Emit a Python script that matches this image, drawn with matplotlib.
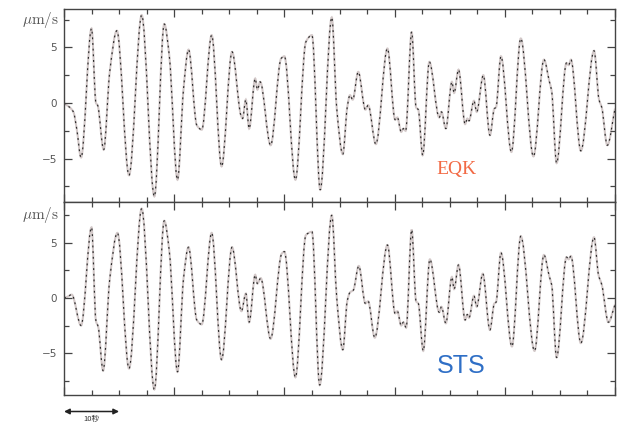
import numpy as np
import matplotlib
matplotlib.use("Agg")
import matplotlib.pyplot as plt
from matplotlib.path import Path
from matplotlib.patches import PathPatch
from matplotlib.ticker import MultipleLocator
import matplotlib.transforms as mtransforms

plt.rcParams["mathtext.fontset"] = "cm"

# ---- data: key points (time [s], velocity [um/s]) ----
t_eqk = [0, 1.7, 2.3, 3.1, 5.0, 5.8, 6.1, 7.2, 8.3, 9.6, 11.8, 14.1, 16.4, 18.2, 19.1,
         20.6, 21.7, 22.6, 24.1, 25.0, 26.8, 28.6, 30.5, 32.1, 32.4, 33.0, 33.6, 34.7,
         35.1, 35.6, 37.5, 39.4, 40.0, 42.0, 43.9, 45.0, 46.5, 48.6, 49.5, 50.6, 51.4,
         51.9, 52.4, 53.4, 54.7, 55.2, 56.6, 58.7, 60.1, 60.5, 61.2, 61.6, 62.0, 63.1,
         63.9, 64.3, 65.1, 66.3, 68.1, 68.5, 69.3, 70.4, 70.8, 71.6, 72.8, 73.2, 73.5,
         74.4, 74.9, 76.1, 77.3, 78.1, 78.4, 79.3, 81.2, 82.9, 85.2, 87.1, 88.1, 88.5,
         89.4, 91.2, 91.6, 92.0, 93.8, 96.2, 97.1, 97.6, 98.6, 100.0]
v_eqk = [0.0, -0.8, -2.3, -4.9, 6.7, 0.0, -0.2, -4.2, 2.8, 6.5, -6.5, 7.9, -8.4, 7.1, 4.3,
         -6.9, 1.3, 4.8, -2.0, -2.4, 6.1, -5.7, 4.6, -1.1, -1.4, 0.3, -2.3, 2.2,
         1.2, 1.9, -3.8, 4.0, 4.2, -6.9, 5.5, 6.1, -7.8, 7.7, -0.5, -4.6, -0.4,
         0.7, 0.3, 2.8, -0.6, -0.2, -3.7, 4.9, -1.5, -1.3, -2.6, -2.3, -2.5, 6.4,
         -0.4, -0.6, -4.7, 3.7, -1.3, -0.8, -2.3, 1.9, 0.9, 3.0, -1.9, -1.4, -1.6,
         0.2, -0.8, 2.5, -2.9, -0.5, -0.4, 4.2, -4.4, 5.8, -4.8, 3.9, 1.9, 1.1,
         -5.4, 3.6, 3.4, 3.9, -4.3, 4.7, 0.3, -0.4, -3.8, -0.5]

t_sts = [0, 0.6, 1.4, 3.1, 5.0, 5.8, 6.2, 7.1, 8.3, 9.7, 11.8, 14.1, 16.4, 18.2, 19.1,
         20.6, 21.7, 22.6, 24.1, 25.0, 26.8, 28.6, 30.5, 32.2, 33.0, 33.6, 34.7, 35.1,
         35.7, 37.5, 39.5, 40.0, 42.0, 43.9, 45.0, 46.4, 48.6, 49.5, 50.6, 51.4, 51.9,
         52.5, 53.5, 54.7, 55.2, 56.4, 58.7, 60.1, 60.5, 61.2, 61.6, 62.1, 63.1, 63.9,
         64.3, 65.2, 66.4, 68.1, 68.5, 69.3, 70.4, 70.8, 71.6, 72.8, 73.2, 73.5, 74.4,
         74.9, 76.0, 77.3, 78.1, 78.4, 79.3, 81.3, 82.9, 85.4, 87.1, 88.1, 88.5, 89.4,
         91.2, 91.6, 92.0, 93.8, 96.2, 97.0, 97.6, 98.8, 100.0]
v_sts = [0.0, 0.1, 0.3, -2.5, 6.4, -2.1, -2.6, -6.6, 1.7, 5.9, -6.4, 8.1, -8.3, 7.0, 4.3,
         -6.7, 1.8, 4.6, -2.0, -2.4, 5.9, -5.6, 4.6, -1.2, 0.4, -2.2, 2.1, 1.3,
         1.8, -3.7, 4.0, 4.2, -7.2, 5.7, 6.0, -7.9, 7.5, 0.0, -4.7, -0.3, 0.5,
         0.7, 2.9, -0.5, -0.3, -3.6, 4.8, -1.4, -1.2, -2.5, -2.2, -2.7, 6.2, -0.3,
         -0.5, -4.8, 3.5, -1.3, -0.8, -2.3, 1.9, 0.8, 3.0, -2.0, -1.5, -1.8, 0.2,
         -0.8, 2.2, -2.9, -0.5, -0.4, 4.1, -4.4, 5.6, -4.8, 3.9, 1.9, 1.2, -5.4,
         3.7, 3.5, 3.8, -4.1, 5.5, 2.1, 1.2, -2.2, -0.6]

ytick_vals = [-5, 0, 5]
ytick_labels = ["\u22125", "0", "5"]
panel_labels = ["EQK", "STS"]


def smooth_path(t, v):
    """Smooth Bezier path through the read points (monotone tangents)."""
    t = np.asarray(t, float)
    v = np.asarray(v, float)
    h = np.diff(t)
    d = np.diff(v) / h
    m = np.zeros_like(v)
    for i in range(1, len(v) - 1):
        if d[i - 1] * d[i] > 0:
            w1 = 2 * h[i] + h[i - 1]
            w2 = h[i] + 2 * h[i - 1]
            m[i] = (w1 + w2) / (w1 / d[i - 1] + w2 / d[i])
    m[0] = d[0]
    m[-1] = d[-1]
    verts = [(t[0], v[0])]
    codes = [Path.MOVETO]
    for i in range(len(h)):
        verts += [(t[i] + h[i] / 3, v[i] + m[i] * h[i] / 3),
                  (t[i + 1] - h[i] / 3, v[i + 1] - m[i + 1] * h[i] / 3),
                  (t[i + 1], v[i + 1])]
        codes += [Path.CURVE4] * 3
    return Path(verts, codes)


W, H = 622, 424
fig = plt.figure(figsize=(W / 100, H / 100), dpi=100)

ax1 = fig.add_axes([64 / W, (H - 202) / H, 551 / W, 193 / H])
ax2 = fig.add_axes([64 / W, (H - 395) / H, 551 / W, 193 / H])

specs = [
    (ax1, t_eqk, v_eqk, (-8.9, 8.45), panel_labels[0], 71.3, -6.0, "#f26a45",
     ["Liberation Serif", "DejaVu Serif"], 14),
    (ax2, t_sts, v_sts, (-8.8, 8.7), panel_labels[1], 72.0, -6.2, "#2f6fc6",
     ["Liberation Sans", "DejaVu Sans"], 18),
]

for ax, t, v, ylim, lab, lx, ly, lc, lfam, lfs in specs:
    p = smooth_path(t, v)
    ax.add_patch(PathPatch(p, fill=False, edgecolor="#d2c8c8", lw=1.5,
                           transform=ax.transData))
    ax.add_patch(PathPatch(p, fill=False, edgecolor="#2a2a2a", lw=0.85,
                           linestyle=(0, (1.6, 3.2)), transform=ax.transData))
    ax.set_xlim(0, 100)
    ax.set_ylim(*ylim)
    ax.xaxis.set_major_locator(MultipleLocator(20))
    ax.xaxis.set_minor_locator(MultipleLocator(5))
    ax.set_yticks(ytick_vals)
    ax.set_yticklabels(ytick_labels)
    ax.yaxis.set_minor_locator(MultipleLocator(2.5))
    ax.tick_params(which="both", direction="in", top=True, right=True,
                   labelbottom=False, color="#444444", width=0.9)
    ax.tick_params(which="major", length=6, labelsize=7.5, labelcolor="#555555", pad=5)
    ax.tick_params(which="minor", length=3.5)
    for s in ax.spines.values():
        s.set_color("#444444")
        s.set_linewidth(1.0)
    trans = mtransforms.blended_transform_factory(ax.transAxes, ax.transData)
    ax.text(-0.009, 7.5, r"$\mu\mathrm{m/s}$", transform=trans, ha="right",
            va="center", fontsize=11, color="#555555")
    ax.text(lx, ly, lab, color=lc, family=lfam, fontsize=lfs, ha="center", va="center")

# 10 s scale arrow below the lower panel
ax2.annotate("", xy=(10, 12.5 / H), xytext=(0, 12.5 / H),
             xycoords=("data", "figure fraction"), textcoords=("data", "figure fraction"),
             arrowprops=dict(arrowstyle="<|-|>", color="#222222", lw=1.1,
                             mutation_scale=8, shrinkA=0, shrinkB=0),
             annotation_clip=False)
ax2.annotate("10秒", xy=(5, 1.0 / H), xycoords=("data", "figure fraction"),
             ha="center", va="bottom", fontsize=5.5, color="#333333",
             family=["Noto Sans CJK JP", "DejaVu Sans"], annotation_clip=False)

fig.savefig("out.png", dpi=100)
